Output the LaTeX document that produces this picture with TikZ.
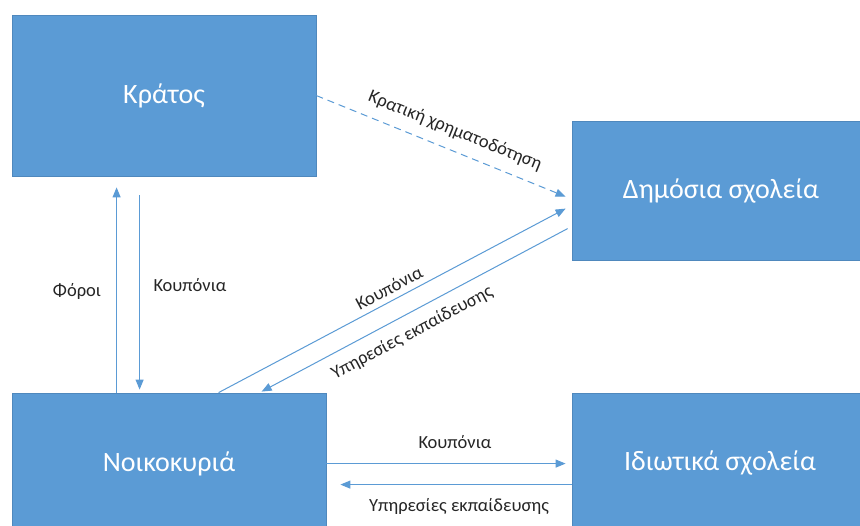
\documentclass[tikz,border=0pt]{standalone}
\usepackage{fontspec}
\setmainfont{Carlito}
\usetikzlibrary{arrows.meta,calc}
\definecolor{boxblue}{HTML}{5B9BD5}
\definecolor{boxedge}{HTML}{4F88BD}
\tikzset{
  box/.style={draw=boxedge,line width=0.8pt,fill=boxblue,text=white,font=\fontsize{28}{32}\selectfont,inner sep=0pt},
  arr/.style={draw=boxblue,line width=1pt,-{Triangle[length=10pt,width=8pt]}},
  darr/.style={arr,dash pattern=on 7pt off 5pt},
  lbl/.style={font=\fontsize{18.5}{22}\selectfont,text=black!85,inner sep=0pt}
}
\begin{document}
\begin{tikzpicture}[x=1pt,y=-1pt]
\useasboundingbox (0,0) rectangle (860,526);
\clip (0,0) rectangle (860,526);
\fill[white] (0,0) rectangle (860,526);
\node[box,minimum width=304pt,minimum height=161pt] (kratos) at (164,95.5) {Κράτος};
\node[box,minimum width=298pt,minimum height=139pt] (dimosia) at (721,190.5) {Δημόσια σχολεία};
\node[box,minimum width=314pt,minimum height=142pt] (noik) at (169,464) {Νοικοκυριά};
\node[box,minimum width=296pt,minimum height=140pt] (idiot) at (720,463) {Ιδιωτικά σχολεία};
% Foroi
\draw[arr] ($(noik.north west)+(105,0)$) -- ($(kratos.south west)+(105,11)$);
\node[lbl] at (77,291) {Φόροι};
% Kouponia down
\draw[arr] ($(kratos.south west)+(128,19)$) -- ($(noik.north west)+(128,-3)$);
\node[lbl] at (190,285) {Κουπόνια};
% Kratiki xrimatodotisi
\draw[darr] ($(kratos.north east)+(0,81)$) -- ($(dimosia.north west)+(-6,76)$);
\node[lbl,rotate=-22] at (455,131) {Κρατική χρηματοδότηση};
% Kouponia diagonal
\draw[arr] ($(noik.north west)+(207,0)$) -- ($(dimosia.north west)+(-6,88)$);
\node[lbl,rotate=28] at (389,288) {Κουπόνια};
% Ypiresies diagonal
\draw[arr] ($(dimosia.north west)+(-4,108)$) -- ($(noik.north west)+(250,-1)$);
\node[lbl,rotate=28] at (412,333) {Υπηρεσίες εκπαίδευσης};
% Horizontal
\draw[arr] ($(noik.north east)+(0,71)$) -- ($(idiot.north west)+(-6,71)$);
\node[lbl] at (455,442) {Κουπόνια};
\draw[arr] ($(idiot.north west)+(0,92)$) -- ($(noik.north east)+(14,92)$);
\node[lbl] at (459,506) {Υπηρεσίες εκπαίδευσης};
\end{tikzpicture}
\end{document}
